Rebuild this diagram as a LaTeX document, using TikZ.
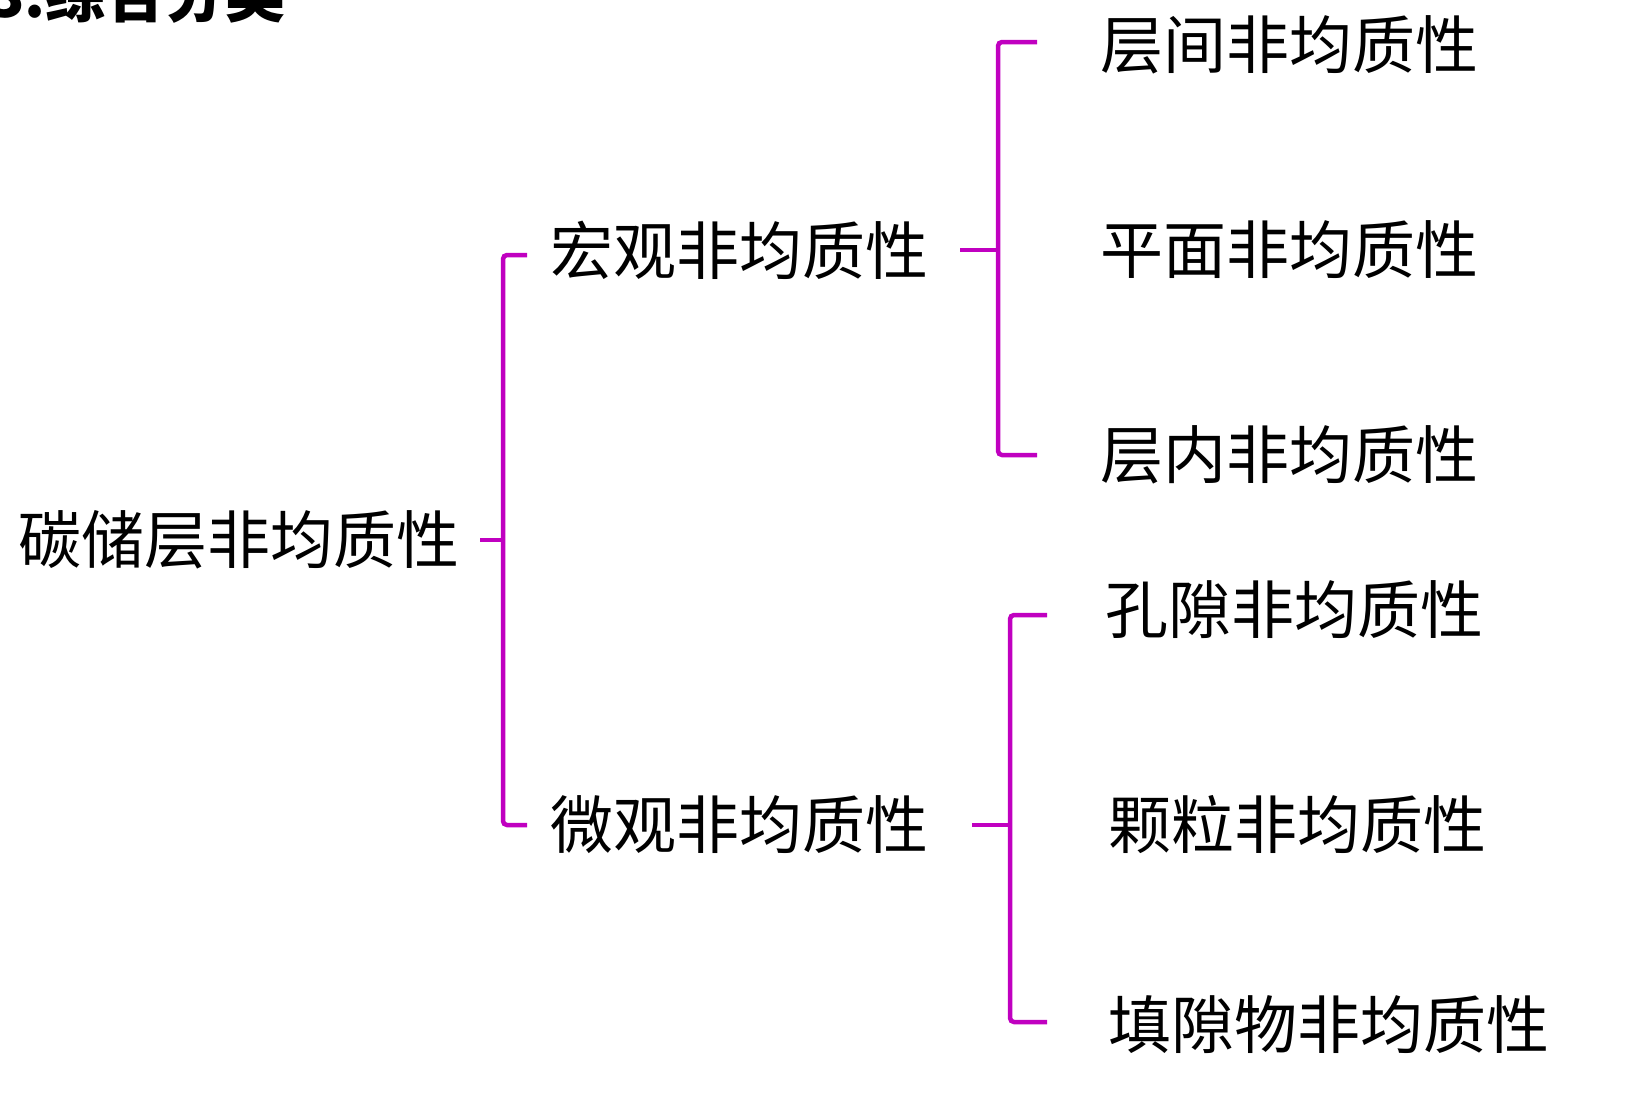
\documentclass[tikz,border=0pt]{standalone}
\usepackage{fontspec}
\setmainfont{Noto Sans CJK SC}
\begin{document}
\begin{tikzpicture}[x=1pt,y=-1pt,
  t/.style={anchor=west,inner sep=0,font=\fontsize{63}{65}\selectfont},
  br/.style={draw=brc,line width=4.5pt,rounded corners=4pt}]
\definecolor{brc}{HTML}{C000C0}
\useasboundingbox (0,0) rectangle (1625,1111);
\clip (0,0) rectangle (1625,1111);
\node[anchor=west,inner sep=0,font=\fontsize{60}{62}\bfseries\selectfont] (title) at (-12,-6) {3.综合分类};
\node[t] (root) at (18,540) {碳储层非均质性};
\node[t] (ma) at (550,250) {宏观非均质性};
\node[t] (mi) at (550,825) {微观非均质性};
\node[t] (a1) at (1100,45) {层间非均质性};
\node[t] (a2) at (1100,250) {平面非均质性};
\node[t] (a3) at (1100,455) {层内非均质性};
\node[t] (b1) at (1105,610) {孔隙非均质性};
\node[t] (b2) at (1108,825) {颗粒非均质性};
\node[t] (b3) at (1108,1025) {填隙物非均质性};
\draw[br] (527,255) -- (503,255) -- (503,825) -- (527,825);
\draw[draw=brc,line width=4.5pt] (480,540) -- (503,540);
\draw[br] (1037,42) -- (998,42) -- (998,455) -- (1037,455);
\draw[draw=brc,line width=4.5pt] (960,250) -- (998,250);
\draw[br] (1047,615) -- (1010,615) -- (1010,1022) -- (1047,1022);
\draw[draw=brc,line width=4.5pt] (972,825) -- (1010,825);
\end{tikzpicture}
\end{document}
